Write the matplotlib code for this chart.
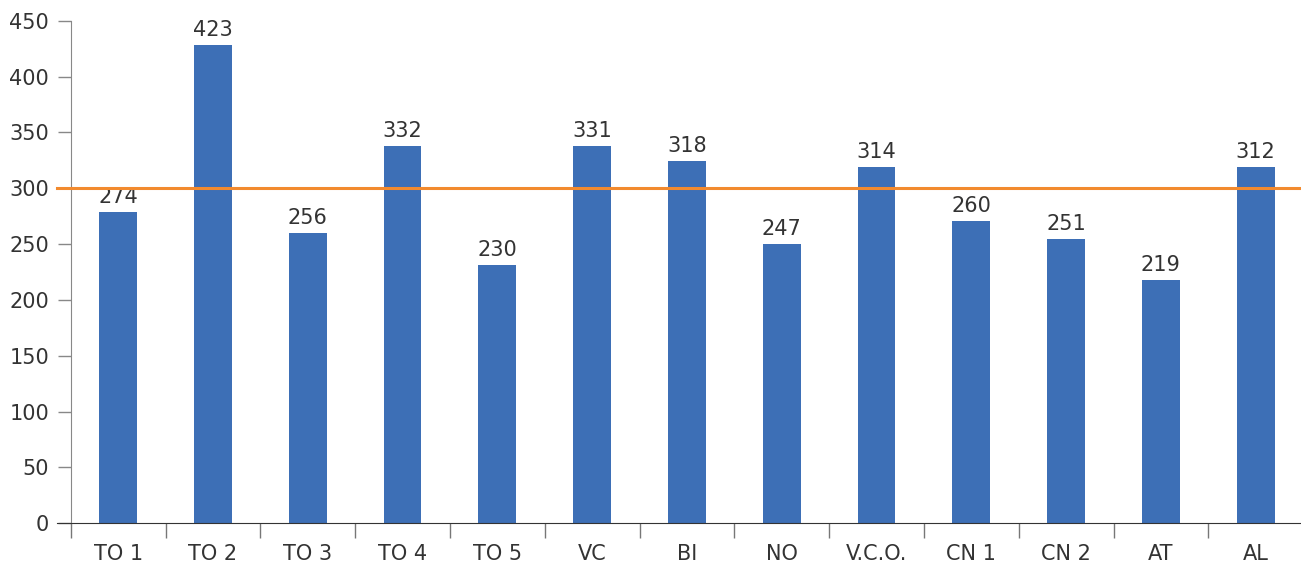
import matplotlib
matplotlib.use("Agg")
import matplotlib.pyplot as plt
import numpy as np

# ───────────────────────── data ───────────────────────── #

categories = ["TO 1", "TO 2", "TO 3", "TO 4", "TO 5", "VC", "BI",
              "NO", "V.C.O.", "CN 1", "CN 2", "AT", "AL"]
# bar heights as drawn (they sit a little off the printed labels)
heights = [278.6, 428.2, 259.9, 337.8, 231.3, 337.8, 324.4,
           250.1, 319.0, 270.7, 254.5, 217.8, 319.0]
value_labels = [274, 423, 256, 332, 230, 331, 318,
                247, 314, 260, 251, 219, 312]
reference_level = 300
y_ticks = [0, 50, 100, 150, 200, 250, 300, 350, 400, 450]

# ───────────────────────── styling ───────────────────────── #

BAR_COLOR = "#3d6fb6"
LINE_COLOR = "#f28a2e"
TEXT_COLOR = "#333333"
FS = 15
plt.rcParams["font.family"] = ["DejaVu Sans"]

W, H = 1301, 566
fig = plt.figure(figsize=(W / 100, H / 100), dpi=100)
left, bottom, top = 70.7, 523.3, 20.7
slot = 94.8
ax = fig.add_axes([left / W, (H - bottom) / H,
                   slot * len(categories) / W, (bottom - top) / H])

x = np.arange(len(categories))
ax.bar(x, heights, width=0.4, color=BAR_COLOR, zorder=2)

for xi, h, lab in zip(x, heights, value_labels):
    ax.annotate(str(lab), (xi, h), xytext=(0, 3.5), textcoords="offset points",
                ha="center", va="bottom", fontsize=FS, color=TEXT_COLOR)

# orange reference line, starting at the tick ends like the original
ax.plot([-0.64, len(categories) - 0.5], [reference_level] * 2,
        color=LINE_COLOR, lw=2.2, zorder=3, clip_on=False)

ax.set_xlim(-0.5, len(categories) - 0.5)
ax.set_ylim(0, 450)
ax.set_yticks(y_ticks)
ax.set_xticks(x)
ax.set_xticklabels(categories)
ax.set_xticks(np.arange(len(categories) + 1) - 0.5, minor=True)

ax.tick_params(axis="y", length=9.5, width=1, color="#888888",
               labelsize=FS, labelcolor=TEXT_COLOR, pad=6)
ax.tick_params(axis="x", which="major", length=0, labelsize=FS,
               labelcolor=TEXT_COLOR, pad=15)
ax.tick_params(axis="x", which="minor", length=11, width=1, color="#777777")

for side in ("top", "right"):
    ax.spines[side].set_visible(False)
ax.spines["left"].set_color("#888888")
ax.spines["bottom"].set_color("#333333")
ax.spines["bottom"].set_bounds(-0.64, len(categories) - 0.5)

fig.savefig("out.png", dpi=100)
